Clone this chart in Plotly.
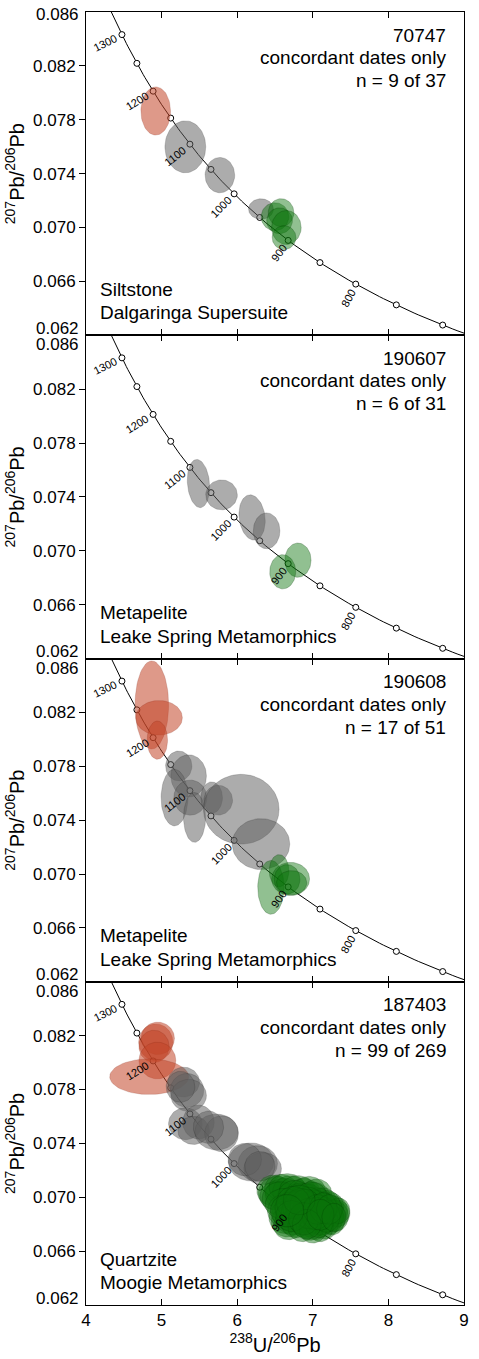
import numpy as np
import plotly.graph_objects as go

# ---------------------------------------------------------------------------
# Tera-Wasserburg concordia constants
LAMBDA_238 = 1.55125e-10   # 1/yr
LAMBDA_235 = 9.8485e-10    # 1/yr
U238_U235 = 137.88

curve_ages = list(range(650, 1405, 5))                # Ma, curve sampling
marker_ages = [700, 750, 800, 850, 900, 950, 1000, 1050, 1100, 1150, 1200, 1250, 1300]
label_ages = [800, 900, 1000, 1100, 1200, 1300]

x_ticks = [4, 5, 6, 7, 8, 9]
y_ticks = [0.066, 0.070, 0.074, 0.078, 0.082]
x_range = [4, 9]
y_range = [0.062, 0.086]

# ---------------------------------------------------------------------------
# Sample annotations
sample_ids = ["70747", "190607", "190608", "187403"]
n_texts = ["n = 9 of 37", "n = 6 of 31", "n = 17 of 51", "n = 99 of 269"]
rock_types = ["Siltstone", "Metapelite", "Metapelite", "Quartzite"]
units = ["Dalgaringa Supersuite", "Leake Spring Metamorphics",
         "Leake Spring Metamorphics", "Moogie Metamorphics"]

# Error ellipses: (238U/206Pb, 207Pb/206Pb, half-width x, half-height y, rho)
s70747_old = [
    (4.922, 0.07865, 0.196, 0.00179, 0.0),
]
s70747_mid = [
    (5.314, 0.07599, 0.270, 0.00193, 0.0),
    (5.771, 0.07389, 0.196, 0.00131, 0.0),
    (6.315, 0.07137, 0.165, 0.00076, 0.0),
]
s70747_young = [
    (6.500, 0.07080, 0.183, 0.00104, 0.0),
    (6.580, 0.07110, 0.170, 0.00104, 0.0),
    (6.560, 0.07050, 0.170, 0.00096, 0.0),
    (6.650, 0.07000, 0.196, 0.00126, 0.0),
    (6.620, 0.06925, 0.157, 0.00089, 0.0),
]

s190607_old = []
s190607_mid = [
    (5.488, 0.07499, 0.148, 0.00179, -0.15),
    (5.793, 0.07415, 0.209, 0.00111, 0.0),
    (6.197, 0.07247, 0.174, 0.00168, -0.15),
    (6.389, 0.07148, 0.176, 0.00133, 0.0),
]
s190607_young = [
    (6.803, 0.06930, 0.174, 0.00127, 0.0),
    (6.602, 0.06844, 0.172, 0.00127, 0.0),
]

s190608_old = [
    (4.871, 0.08255, 0.222, 0.00327, 0.0),
    (4.966, 0.08160, 0.309, 0.00128, 0.0),
    (4.944, 0.07994, 0.135, 0.00142, 0.0),
]
s190608_mid = [
    (5.227, 0.07802, 0.174, 0.00111, 0.0),
    (5.358, 0.07728, 0.235, 0.00157, 0.0),
    (5.171, 0.07567, 0.178, 0.00210, 0.0),
    (5.380, 0.07567, 0.218, 0.00130, 0.0),
    (5.436, 0.07420, 0.146, 0.00185, 0.0),
    (5.662, 0.07567, 0.143, 0.00117, 0.0),
    (5.749, 0.07548, 0.190, 0.00111, 0.0),
    (6.054, 0.07481, 0.500, 0.00259, 0.0),
    (6.315, 0.07222, 0.381, 0.00189, 0.0),
]
s190608_young = [
    (6.446, 0.06901, 0.174, 0.00200, 0.0),
    (6.554, 0.07024, 0.130, 0.00120, 0.0),
    (6.707, 0.06963, 0.250, 0.00123, 0.0),
    (6.660, 0.06960, 0.170, 0.00110, 0.0),
    (6.720, 0.06935, 0.200, 0.00090, 0.0),
]

s187403_old = [
    (4.923, 0.08151, 0.226, 0.00136, 0.0),
    (4.950, 0.08180, 0.220, 0.00120, 0.0),
    (4.900, 0.08120, 0.200, 0.00120, 0.0),
    (4.944, 0.08015, 0.244, 0.00136, 0.0),
    (4.836, 0.07895, 0.522, 0.00132, 0.0),
]
s187403_mid = [
    (5.292, 0.07855, 0.209, 0.00111, 0.0),
    (5.336, 0.07793, 0.222, 0.00126, 0.0),
    (5.358, 0.07756, 0.235, 0.00119, 0.0),
    (5.250, 0.07820, 0.190, 0.00115, 0.0),
    (5.314, 0.07546, 0.222, 0.00119, 0.0),
    (5.488, 0.07558, 0.209, 0.00126, 0.0),
    (5.423, 0.07496, 0.209, 0.00104, 0.0),
    (5.727, 0.07484, 0.287, 0.00133, 0.0),
    (5.793, 0.07472, 0.222, 0.00133, 0.0),
    (5.620, 0.07520, 0.200, 0.00120, 0.0),
    (6.184, 0.07262, 0.300, 0.00141, 0.0),
    (6.272, 0.07250, 0.261, 0.00133, 0.0),
    (6.337, 0.07213, 0.248, 0.00119, 0.0),
    (6.100, 0.07280, 0.220, 0.00120, 0.0),
    (6.300, 0.07230, 0.200, 0.00110, 0.0),
]
s187403_young = [
    (6.48, 0.07050, 0.22, 0.00115, 0.0),
    (6.52, 0.07030, 0.24, 0.00125, 0.0),
    (6.58, 0.07060, 0.22, 0.00110, 0.0),
    (6.62, 0.07020, 0.25, 0.00120, 0.0),
    (6.50, 0.07010, 0.20, 0.00105, 0.0),
    (6.70, 0.07040, 0.23, 0.00120, 0.0),
    (6.66, 0.07075, 0.24, 0.00100, 0.0),
    (6.57, 0.06990, 0.24, 0.00125, 0.0),
    (6.80, 0.07050, 0.24, 0.00110, 0.0),
    (6.88, 0.07020, 0.23, 0.00120, 0.0),
    (6.95, 0.07040, 0.22, 0.00115, 0.0),
    (7.02, 0.07000, 0.21, 0.00110, 0.0),
    (6.85, 0.06980, 0.25, 0.00125, 0.0),
    (6.92, 0.06990, 0.22, 0.00110, 0.0),
    (7.05, 0.07030, 0.20, 0.00105, 0.0),
    (6.76, 0.07010, 0.22, 0.00115, 0.0),
    (6.64, 0.06850, 0.22, 0.00120, 0.0),
    (6.66, 0.06820, 0.21, 0.00115, 0.0),
    (6.70, 0.06880, 0.24, 0.00125, 0.0),
    (6.62, 0.06900, 0.22, 0.00120, 0.0),
    (6.75, 0.06840, 0.24, 0.00120, 0.0),
    (6.68, 0.06790, 0.20, 0.00105, 0.0),
    (6.62, 0.06950, 0.25, 0.00115, 0.0),
    (6.72, 0.06920, 0.22, 0.00120, 0.0),
    (7.10, 0.06900, 0.18, 0.00120, 0.0),
    (7.15, 0.06880, 0.19, 0.00125, 0.0),
    (7.20, 0.06890, 0.18, 0.00115, 0.0),
    (7.25, 0.06870, 0.17, 0.00120, 0.0),
    (7.28, 0.06900, 0.18, 0.00110, 0.0),
    (7.05, 0.06860, 0.20, 0.00125, 0.0),
    (7.12, 0.06840, 0.19, 0.00120, 0.0),
    (7.18, 0.06920, 0.17, 0.00110, 0.0),
    (7.22, 0.06850, 0.18, 0.00125, 0.0),
    (7.30, 0.06860, 0.17, 0.00115, 0.0),
    (7.08, 0.06930, 0.20, 0.00115, 0.0),
    (7.00, 0.06900, 0.21, 0.00125, 0.0),
    (6.98, 0.06850, 0.20, 0.00120, 0.0),
    (7.03, 0.06800, 0.19, 0.00115, 0.0),
    (7.14, 0.06960, 0.18, 0.00110, 0.0),
    (7.24, 0.06930, 0.17, 0.00105, 0.0),
    (7.32, 0.06880, 0.17, 0.00100, 0.0),
    (7.16, 0.06810, 0.18, 0.00120, 0.0),
    (7.26, 0.06830, 0.16, 0.00110, 0.0),
    (7.10, 0.06780, 0.17, 0.00110, 0.0),
    (6.95, 0.06920, 0.21, 0.00120, 0.0),
    (6.92, 0.06870, 0.20, 0.00125, 0.0),
    (6.90, 0.06820, 0.20, 0.00120, 0.0),
    (6.88, 0.06900, 0.22, 0.00125, 0.0),
    (6.85, 0.06860, 0.21, 0.00120, 0.0),
    (6.96, 0.06790, 0.18, 0.00110, 0.0),
    (7.06, 0.06960, 0.19, 0.00110, 0.0),
    (7.20, 0.06950, 0.16, 0.00100, 0.0),
    (7.34, 0.06900, 0.15, 0.00095, 0.0),
    (7.12, 0.06900, 0.17, 0.00110, 0.0),
    (7.02, 0.06940, 0.19, 0.00115, 0.0),
    (6.94, 0.06960, 0.20, 0.00115, 0.0),
    (6.82, 0.06930, 0.22, 0.00120, 0.0),
    (6.80, 0.06880, 0.22, 0.00125, 0.0),
    (6.78, 0.06810, 0.20, 0.00110, 0.0),
    (6.86, 0.06780, 0.19, 0.00110, 0.0),
    (7.00, 0.06760, 0.18, 0.00100, 0.0),
    (7.18, 0.06860, 0.18, 0.00120, 0.0),
    (7.08, 0.06820, 0.19, 0.00120, 0.0),
    (6.98, 0.07000, 0.21, 0.00115, 0.0),
    (6.84, 0.06950, 0.21, 0.00115, 0.0),
    (6.90, 0.06940, 0.20, 0.00120, 0.0),
    (6.96, 0.06880, 0.20, 0.00115, 0.0),
    (7.04, 0.06880, 0.19, 0.00120, 0.0),
    (6.74, 0.06960, 0.22, 0.00120, 0.0),
    (6.72, 0.06860, 0.21, 0.00115, 0.0),
    (6.88, 0.06840, 0.20, 0.00120, 0.0),
    (7.06, 0.06910, 0.19, 0.00110, 0.0),
    (7.14, 0.06920, 0.18, 0.00115, 0.0),
    (7.22, 0.06910, 0.17, 0.00110, 0.0),
    (6.92, 0.06800, 0.19, 0.00110, 0.0),
    (6.82, 0.06980, 0.21, 0.00110, 0.0),
    (7.10, 0.06870, 0.18, 0.00115, 0.0),
    (7.28, 0.06850, 0.16, 0.00105, 0.0),
    (6.66, 0.06900, 0.22, 0.00120, 0.0),
]

panels = [
    (s70747_old, s70747_mid, s70747_young),
    (s190607_old, s190607_mid, s190607_young),
    (s190608_old, s190608_mid, s190608_young),
    (s187403_old, s187403_mid, s187403_young),
]

# population styles: (fill, outline)
styles = [
    ("rgba(195,70,40,0.55)", "rgba(120,30,10,0.30)"),
    ("rgba(95,95,95,0.52)", "rgba(30,30,30,0.30)"),
    ("rgba(12,115,12,0.45)", "rgba(0,50,0,0.40)"),
]

# ---------------------------------------------------------------------------
W, H = 479, 1359
M_L, M_R, M_T, M_B = 86, 10, 12, 46
plot_w = W - M_L - M_R
panel_h = (H - M_T - M_B) / 4
px_per_x = plot_w / (x_range[1] - x_range[0])
px_per_y = panel_h / (y_range[1] - y_range[0])

FONT = "Arial, 'Liberation Sans', Helvetica, sans-serif"


def concordia(age_ma):
    t = np.asarray(age_ma, dtype=float) * 1e6
    e238 = np.exp(LAMBDA_238 * t) - 1.0
    e235 = np.exp(LAMBDA_235 * t) - 1.0
    return 1.0 / e238, e235 / e238 / U238_U235


def ellipse(x0, y0, sx, sy, rho, n=72):
    th = np.linspace(0, 2 * np.pi, n)
    xs = x0 + sx * np.cos(th)
    ys = y0 + sy * (rho * np.cos(th) + np.sqrt(1 - rho ** 2) * np.sin(th))
    return xs, ys


fig = go.Figure()
annotations = []

cx, cy = concordia(curve_ages)
mx, my = concordia(marker_ages)

for k in range(4):
    sfx = "" if k == 0 else str(k + 1)
    xa, ya = "x" + sfx, "y" + sfx

    # concordia curve and age markers
    fig.add_trace(go.Scatter(x=cx, y=cy, mode="lines", xaxis=xa, yaxis=ya,
                             line=dict(color="black", width=1), hoverinfo="skip",
                             showlegend=False))
    fig.add_trace(go.Scatter(x=mx, y=my, mode="markers", xaxis=xa, yaxis=ya,
                             marker=dict(symbol="circle", size=6, color="white",
                                         line=dict(color="black", width=1)),
                             hoverinfo="skip", showlegend=False, cliponaxis=True))

    # error ellipses
    for grp, (fill, edge) in zip(panels[k], styles):
        for (x0, y0, sx, sy, rho) in grp:
            ex, ey = ellipse(x0, y0, sx, sy, rho)
            fig.add_trace(go.Scatter(x=ex, y=ey, mode="lines", fill="toself",
                                     fillcolor=fill, xaxis=xa, yaxis=ya,
                                     line=dict(color=edge, width=0.6),
                                     hoverinfo="skip", showlegend=False))

    # age labels, perpendicular to the curve, below-left of each marker
    for age in label_ages:
        ax0, ay0 = concordia([age])
        ax1, ay1 = concordia([age - 5])
        dxp = (ax1[0] - ax0[0]) * px_per_x
        dyp = (ay1[0] - ay0[0]) * px_per_y
        nrm = np.hypot(dxp, dyp)
        ux, uy = -dyp / nrm, dxp / nrm
        label = str(age)
        d = 0.556 * 11 * len(label) / 2 + 6.5
        annotations.append(dict(
            x=float(ax0[0]), y=float(ay0[0]), xref=xa, yref=ya, text=label,
            showarrow=False, textangle=-float(np.degrees(np.arctan2(uy, ux))),
            xshift=-d * ux, yshift=-d * uy, xanchor="center", yanchor="middle",
            font=dict(family=FONT, size=11, color="black")))

    # sample text, top right
    dom = ya + " domain"
    xdom = xa + " domain"
    for line, off in zip([sample_ids[k], "concordant dates only", n_texts[k]],
                         [23.2, 45.5, 68.5]):
        annotations.append(dict(x=1, y=1, xref=xdom, yref=dom, text=line,
                                showarrow=False, xanchor="right", yanchor="middle",
                                xshift=-16, yshift=-off,
                                font=dict(family=FONT, size=19, color="black")))
    # lithology, bottom left
    for line, off in zip([rock_types[k], units[k]], [46.0, 22.5]):
        annotations.append(dict(x=0, y=0, xref=xdom, yref=dom, text=line,
                                showarrow=False, xanchor="left", yanchor="middle",
                                xshift=12, yshift=off,
                                font=dict(family=FONT, size=19, color="black")))

    # end labels of the y axis, nudged off the panel edges
    annotations.append(dict(x=0, y=1, xref="paper", yref=dom, text="0.086",
                            showarrow=False, xanchor="right", yanchor="middle",
                            xshift=-5, yshift=-2.5 if k == 0 else -9.5,
                            font=dict(family=FONT, size=17, color="black")))
    annotations.append(dict(x=0, y=0, xref="paper", yref=dom, text="0.062",
                            showarrow=False, xanchor="right", yanchor="middle",
                            xshift=-5, yshift=7,
                            font=dict(family=FONT, size=17, color="black")))

layout = dict(
    width=W, height=H,
    margin=dict(l=M_L, r=M_R, t=M_T, b=M_B, pad=0),
    paper_bgcolor="white", plot_bgcolor="white",
    font=dict(family=FONT, color="black"),
    showlegend=False,
    annotations=annotations,
)

for k in range(4):
    sfx = "" if k == 0 else str(k + 1)
    lo = 1 - (k + 1) * 0.25
    hi = 1 - k * 0.25
    xaxis = dict(
        domain=[0, 1], anchor="y" + sfx, range=x_range, tickvals=x_ticks,
        ticks="inside", ticklen=6, tickwidth=1, tickcolor="black",
        showline=True, linecolor="black", linewidth=1, mirror="allticks",
        showgrid=False, zeroline=False, showticklabels=(k == 3),
        tickfont=dict(family=FONT, size=17, color="black"),
    )
    if k:
        xaxis["matches"] = "x"
    if k == 3:
        xaxis["title"] = dict(text="<sup>238</sup>U/<sup>206</sup>Pb",
                              font=dict(family=FONT, size=20, color="black"),
                              standoff=5)
    layout["xaxis" + sfx] = xaxis
    layout["yaxis" + sfx] = dict(
        domain=[lo, hi], anchor="x" + sfx, range=y_range, tickvals=y_ticks,
        tickformat=".3f", ticks="outside", ticklen=6, tickwidth=1,
        tickcolor="black", showline=True, linecolor="black", linewidth=1,
        mirror=True, showgrid=False, zeroline=False,
        tickfont=dict(family=FONT, size=17, color="black"),
        title=dict(text="<sup>207</sup>Pb/<sup>206</sup>Pb",
                   font=dict(family=FONT, size=20, color="black"), standoff=3),
    )
    # right-hand axis carrying the inward ticks
    layout["yaxis" + str(k + 5)] = dict(
        domain=[lo, hi], anchor="x" + sfx, overlaying="y" + sfx, side="right",
        range=y_range, tickvals=y_ticks, ticks="inside", ticklen=6, tickwidth=1,
        tickcolor="black", showticklabels=False, showline=False,
        showgrid=False, zeroline=False,
    )

fig.update_layout(**layout)
fig.write_html("out.html")
